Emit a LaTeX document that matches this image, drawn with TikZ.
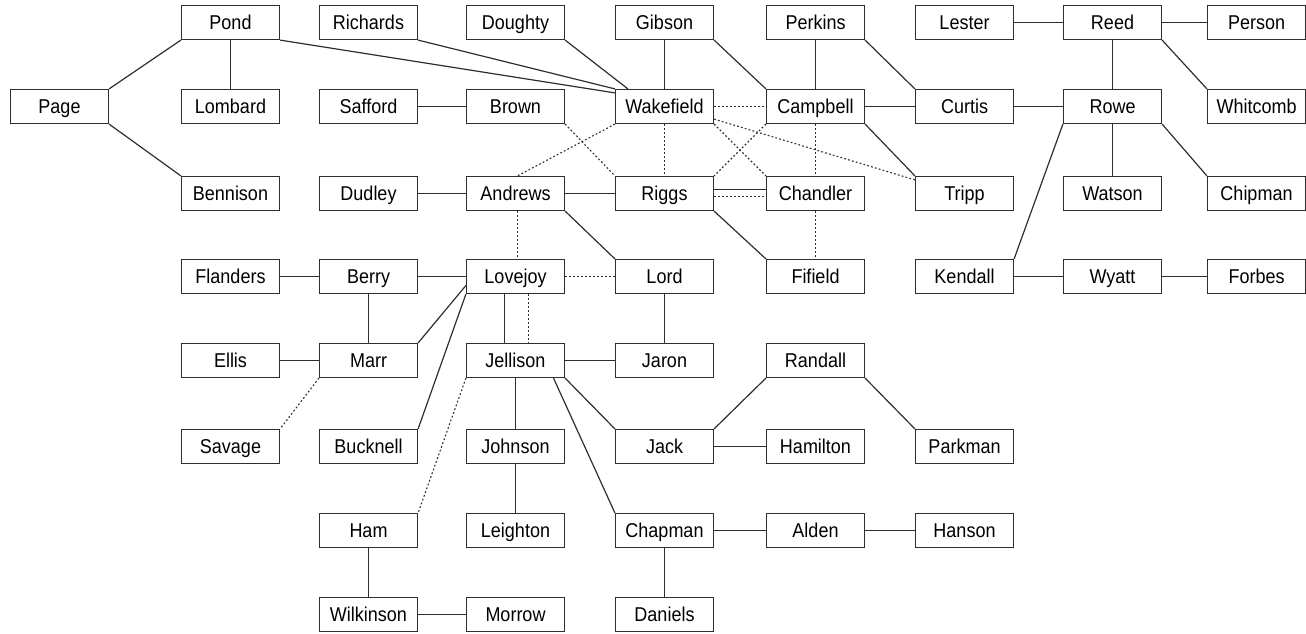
\documentclass[tikz,border=0pt]{standalone}
\usepackage{fontspec}
\setmainfont[FakeStretch=0.9]{Liberation Sans}
\begin{document}
\begin{tikzpicture}[x=1pt,y=-1pt,
  box/.style={draw=black!82, line width=1.2pt, minimum width=98pt, minimum height=34pt,
    inner sep=0pt, text height=14.3pt, text depth=0pt,
    font=\fontsize{20}{24}\selectfont, text=black},
  solidlink/.style={draw=black!82, line width=1.2pt},
  dotlink/.style={draw=black!82, line width=1.1pt, dash pattern=on 1.8pt off 2.2pt}]
\useasboundingbox (0,0) rectangle (1306,634);
% columns
\def\cA{59.5}\def\cB{230.5}\def\cC{368.5}\def\cD{515.5}\def\cE{664.5}
\def\cF{815.5}\def\cG{964.5}\def\cH{1112.5}\def\cI{1256.5}
% rows
\def\rA{22.5}\def\rB{106.5}\def\rC{193.5}\def\rD{276.5}\def\rE{360.5}\def\rF{446.5}\def\rG{530.5}\def\rH{614.5}
% row 1
\node[box] (pond) at (\cB,\rA) {Pond};
\node[box] (richards) at (\cC,\rA) {Richards};
\node[box] (doughty) at (\cD,\rA) {Doughty};
\node[box] (gibson) at (\cE,\rA) {Gibson};
\node[box] (perkins) at (\cF,\rA) {Perkins};
\node[box] (lester) at (\cG,\rA) {Lester};
\node[box] (reed) at (\cH,\rA) {Reed};
\node[box] (person) at (\cI,\rA) {Person};
% row 2
\node[box] (page) at (\cA,\rB) {Page};
\node[box] (lombard) at (\cB,\rB) {Lombard};
\node[box] (safford) at (\cC,\rB) {Safford};
\node[box] (brown) at (\cD,\rB) {Brown};
\node[box] (wakefield) at (\cE,\rB) {Wakefield};
\node[box] (campbell) at (\cF,\rB) {Campbell};
\node[box] (curtis) at (\cG,\rB) {Curtis};
\node[box] (rowe) at (\cH,\rB) {Rowe};
\node[box] (whitcomb) at (\cI,\rB) {Whitcomb};
% row 3
\node[box] (bennison) at (\cB,\rC) {Bennison};
\node[box] (dudley) at (\cC,\rC) {Dudley};
\node[box] (andrews) at (\cD,\rC) {Andrews};
\node[box] (riggs) at (\cE,\rC) {Riggs};
\node[box] (chandler) at (\cF,\rC) {Chandler};
\node[box] (tripp) at (\cG,\rC) {Tripp};
\node[box] (watson) at (\cH,\rC) {Watson};
\node[box] (chipman) at (\cI,\rC) {Chipman};
% row 4
\node[box] (flanders) at (\cB,\rD) {Flanders};
\node[box] (berry) at (\cC,\rD) {Berry};
\node[box] (lovejoy) at (\cD,\rD) {Lovejoy};
\node[box] (lord) at (\cE,\rD) {Lord};
\node[box] (fifield) at (\cF,\rD) {Fifield};
\node[box] (kendall) at (\cG,\rD) {Kendall};
\node[box] (wyatt) at (\cH,\rD) {Wyatt};
\node[box] (forbes) at (\cI,\rD) {Forbes};
% row 5
\node[box] (ellis) at (\cB,\rE) {Ellis};
\node[box] (marr) at (\cC,\rE) {Marr};
\node[box] (jellison) at (\cD,\rE) {Jellison};
\node[box] (jaron) at (\cE,\rE) {Jaron};
\node[box] (randall) at (\cF,\rE) {Randall};
% row 6
\node[box] (savage) at (\cB,\rF) {Savage};
\node[box] (bucknell) at (\cC,\rF) {Bucknell};
\node[box] (johnson) at (\cD,\rF) {Johnson};
\node[box] (jack) at (\cE,\rF) {Jack};
\node[box] (hamilton) at (\cF,\rF) {Hamilton};
\node[box] (parkman) at (\cG,\rF) {Parkman};
% row 7
\node[box] (ham) at (\cC,\rG) {Ham};
\node[box] (leighton) at (\cD,\rG) {Leighton};
\node[box] (chapman) at (\cE,\rG) {Chapman};
\node[box] (alden) at (\cF,\rG) {Alden};
\node[box] (hanson) at (\cG,\rG) {Hanson};
% row 8
\node[box] (wilkinson) at (\cC,\rH) {Wilkinson};
\node[box] (morrow) at (\cD,\rH) {Morrow};
\node[box] (daniels) at (\cE,\rH) {Daniels};

% solid connectors
\draw[solidlink] (page.north east) -- (pond.south west);
\draw[solidlink] (page.south east) -- (bennison.north west);
\draw[solidlink] (pond.south) -- (lombard.north);
\draw[solidlink] (pond.south east) -- ([yshift=-4pt]wakefield.north west);
\draw[solidlink] (richards.south east) -- (wakefield.north west);
\draw[solidlink] (doughty.south east) -- ([xshift=13pt]wakefield.north west);
\draw[solidlink] (gibson.south) -- (wakefield.north);
\draw[solidlink] (gibson.south east) -- (campbell.north west);
\draw[solidlink] (perkins.south) -- (campbell.north);
\draw[solidlink] (perkins.south east) -- (curtis.north west);
\draw[solidlink] (lester.east) -- (reed.west);
\draw[solidlink] (reed.east) -- (person.west);
\draw[solidlink] (reed.south) -- (rowe.north);
\draw[solidlink] (reed.south east) -- (whitcomb.north west);
\draw[solidlink] (campbell.east) -- (curtis.west);
\draw[solidlink] (campbell.south east) -- (tripp.north west);
\draw[solidlink] (curtis.east) -- (rowe.west);
\draw[solidlink] (rowe.south) -- (watson.north);
\draw[solidlink] (rowe.south east) -- (chipman.north west);
\draw[solidlink] (rowe.south west) -- (kendall.north east);
\draw[solidlink] (kendall.east) -- (wyatt.west);
\draw[solidlink] (wyatt.east) -- (forbes.west);
\draw[solidlink] (safford.east) -- (brown.west);
\draw[solidlink] (dudley.east) -- (andrews.west);
\draw[solidlink] (andrews.east) -- (riggs.west);
\draw[solidlink] (andrews.south east) -- (lord.north west);
\draw[solidlink] ([yshift=4pt]riggs.east) -- ([yshift=4pt]chandler.west);
\draw[solidlink] (riggs.south east) -- (fifield.north west);
\draw[solidlink] (lord.south) -- (jaron.north);
\draw[solidlink] (flanders.east) -- (berry.west);
\draw[solidlink] (berry.east) -- (lovejoy.west);
\draw[solidlink] (berry.south) -- (marr.north);
\draw[solidlink] (marr.north east) -- ([yshift=-9pt]lovejoy.west);
\draw[solidlink] (bucknell.north east) -- (lovejoy.south west);
\draw[solidlink] (ellis.east) -- (marr.west);
\draw[solidlink] ([xshift=-11pt]lovejoy.south) -- ([xshift=-11pt]jellison.north);
\draw[solidlink] (jellison.east) -- (jaron.west);
\draw[solidlink] (jellison.south) -- (johnson.north);
\draw[solidlink] (jellison.south east) -- (jack.north west);
\draw[solidlink] ([xshift=38pt]jellison.south) -- (chapman.north west);
\draw[solidlink] (johnson.south) -- (leighton.north);
\draw[solidlink] (ham.south) -- (wilkinson.north);
\draw[solidlink] (wilkinson.east) -- (morrow.west);
\draw[solidlink] (chapman.east) -- (alden.west);
\draw[solidlink] (alden.east) -- (hanson.west);
\draw[solidlink] (chapman.south) -- (daniels.north);
\draw[solidlink] (jack.north east) -- (randall.south west);
\draw[solidlink] (jack.east) -- (hamilton.west);
\draw[solidlink] (randall.south east) -- (parkman.north west);

% dotted connectors
\draw[dotlink] (wakefield.east) -- (campbell.west);
\draw[dotlink] (wakefield.south) -- (riggs.north);
\draw[dotlink] (wakefield.south west) -- ([xshift=2pt]andrews.north);
\draw[dotlink] (brown.south east) -- (riggs.north west);
\draw[dotlink] (wakefield.south east) -- (chandler.north west);
\draw[dotlink] ([yshift=5pt]wakefield.south east) -- ([yshift=-4pt]tripp.north west);
\draw[dotlink] (campbell.south west) -- (riggs.north east);
\draw[dotlink] (campbell.south) -- (chandler.north);
\draw[dotlink] (chandler.south) -- (fifield.north);
\draw[dotlink] ([yshift=-3pt]riggs.east) -- ([yshift=-3pt]chandler.west);
\draw[dotlink] (lovejoy.east) -- (lord.west);
\draw[dotlink] ([xshift=2pt]andrews.south) -- ([xshift=2pt]lovejoy.north);
\draw[dotlink] ([xshift=13pt]lovejoy.south) -- ([xshift=13pt]jellison.north);
\draw[dotlink] (jellison.south west) -- (ham.north east);
\draw[dotlink] (marr.south west) -- (savage.north east);
\end{tikzpicture}
\end{document}
